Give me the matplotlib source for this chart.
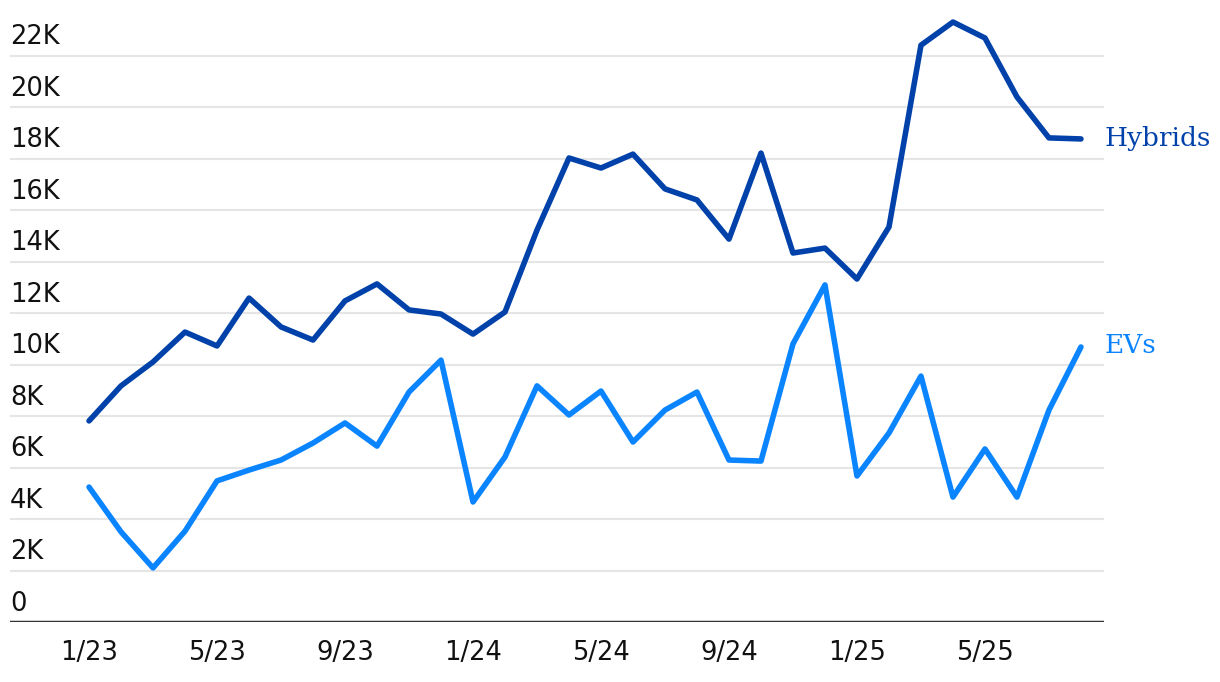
import matplotlib
matplotlib.use('Agg')
import matplotlib.pyplot as plt

# monthly values, 1/23 .. 8/25 (thousands)
months = [f"{m}/{y}" for y in (23, 24, 25) for m in range(1, 13)][:32]
hybrids = [7.81, 9.17, 10.1, 11.26, 10.72, 12.58, 11.46, 10.95, 12.47, 13.13,
           12.12, 11.96, 11.18, 12.04, 15.22, 18.02, 17.63, 18.17, 16.82, 16.39,
           14.87, 18.21, 14.33, 14.52, 13.32, 15.34, 22.4, 23.3, 22.68, 20.39,
           18.8, 18.76]
evs = [5.24, 3.50, 2.10, 3.53, 5.48, 5.9, 6.29, 6.95, 7.73, 6.83,
       8.93, 10.17, 4.66, 6.41, 9.17, 8.04, 8.97, 6.99, 8.23, 8.93,
       6.29, 6.25, 10.8, 13.09, 5.67, 7.34, 9.55, 4.85, 6.72, 4.85,
       8.23, 10.68]
y_ticks = [0, 2, 4, 6, 8, 10, 12, 14, 16, 18, 20, 22]
y_labels = ["0"] + [f"{v}K" for v in y_ticks[1:]]
x_tick_idx = [0, 4, 8, 12, 16, 20, 24, 28]

hyb_color = '#0041aa'
ev_color = '#0a84ff'
tick_font = 'DejaVu Sans'

fig = plt.figure(figsize=(12.2, 6.82), dpi=100)
ax = fig.add_axes([10 / 1220, 1 - 622 / 682, 1094 / 1220, 618 / 682])

x = list(range(len(months)))
ax.plot(x, hybrids, color=hyb_color, lw=4, solid_joinstyle='round',
        solid_capstyle='round', clip_on=False, zorder=3)
ax.plot(x, evs, color=ev_color, lw=4, solid_joinstyle='round',
        solid_capstyle='round', clip_on=False, zorder=3)

ax.set_xlim(-2.47, 31.72)
ax.set_ylim(0, 24)

# gridlines
for v in y_ticks[1:]:
    ax.axhline(v, color='#e5e5e5', lw=1.5, zorder=1)
ax.axhline(0, color='#333333', lw=2.5, zorder=2)

for s in ax.spines.values():
    s.set_visible(False)
ax.set_yticks([])
ax.set_xticks(x_tick_idx)
ax.set_xticklabels([months[i] for i in x_tick_idx], fontsize=18.5,
                   family=tick_font, color='#111111')
ax.tick_params(axis='x', length=0, pad=13)

tf = ax.get_yaxis_transform()
for v, lab in zip(y_ticks, y_labels):
    ax.text(0.0, v + 0.2, lab, transform=tf, ha='left', va='bottom',
            fontsize=18.5, family=tick_font, color='#111111')

ax.text(x[-1] + 0.75, hybrids[-1], "Hybrids", color=hyb_color, fontsize=19,
        family='DejaVu Serif', va='center', ha='left', clip_on=False)
ax.text(x[-1] + 0.75, evs[-1] + 0.05, "EVs", color=ev_color, fontsize=19,
        family='DejaVu Serif', va='center', ha='left', clip_on=False)

fig.savefig('out.png', dpi=100)
plt.close()
